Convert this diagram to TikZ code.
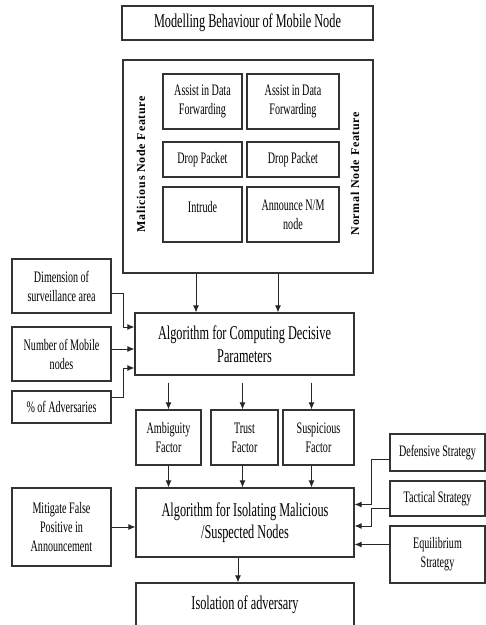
\documentclass[tikz,border=0pt]{standalone}
\usepackage{fontspec}
\setmainfont{Liberation Serif}[FakeStretch=0.63]
\newfontfamily\sidefont{Liberation Serif}[LetterSpace=6, UprightFont=*, BoldFont=* Bold]
\usetikzlibrary{arrows.meta}

\begin{document}
\begin{tikzpicture}[x=1pt,y=-1pt]
    \tikzstyle{box} = [rectangle, draw=black!80, line width=1.1pt, align=center, inner sep=2pt, font=\fontsize{16}{19}\selectfont]
    \tikzstyle{bigbox} = [box, font=\fontsize{19.5}{22.5}\selectfont]
    \tikzstyle{sidetext} = [rotate=90, font=\sidefont\bfseries\fontsize{12}{14}\selectfont]
    \tikzstyle{arr} = [-{Latex[length=7pt,width=6pt]}, draw=black!85, line width=1pt]
    \useasboundingbox (0,0) rectangle (486,625);

    \node[bigbox, minimum width=251pt, minimum height=34pt] (model) at (247.5,23) {Modelling Behaviour of Mobile Node};
    \node[box, minimum width=250pt, minimum height=213pt] (feat) at (248,166.5) {};
    \node[box, minimum width=79pt, minimum height=55pt] (assistm) at (202.5,101.5) {Assist in Data\\Forwarding};
    \node[box, minimum width=92pt, minimum height=55pt] (assistn) at (293,101.5) {Assist in Data\\Forwarding};
    \node[box, minimum width=79pt, minimum height=35pt] (dropm) at (202.5,159.5) {Drop Packet};
    \node[box, minimum width=92pt, minimum height=35pt] (dropn) at (293,159.5) {Drop Packet};
    \node[box, minimum width=79pt, minimum height=55pt, text depth=16pt] (intrude) at (202.5,214.5) {Intrude};
    \node[box, minimum width=92pt, minimum height=55pt] (announce) at (293,214.5) {Announce N/M\\node};
    \node[sidetext] (malicious) at (141,164) {Malicious Node Feature};
    \node[sidetext] (normal) at (355,173.5) {Normal Node Feature};

    \node[box, minimum width=99pt, minimum height=54pt] (dim) at (61.5,286) {Dimension of\\surveillance area};
    \node[box, minimum width=99pt, minimum height=54pt] (num) at (61.5,354) {Number of Mobile\\nodes};
    \node[box, minimum width=99pt, minimum height=32pt] (adv) at (61.5,407) {\% of Adversaries};
    \node[bigbox, minimum width=219pt, minimum height=62pt] (compute) at (244.5,344) {Algorithm for Computing Decisive\\Parameters};

    \node[box, minimum width=65pt, minimum height=55pt] (amb) at (168.5,437.5) {Ambiguity\\Factor};
    \node[box, minimum width=67pt, minimum height=55pt] (trust) at (244.5,437.5) {Trust\\Factor};
    \node[box, minimum width=71pt, minimum height=55pt] (susp) at (318.5,437.5) {Suspicious\\Factor};

    \node[bigbox, minimum width=218pt, minimum height=69pt] (isolate) at (245,522.5) {Algorithm for Isolating Malicious\\/Suspected Nodes};
    \node[box, minimum width=99pt, minimum height=78pt] (mitigate) at (61.5,527) {Mitigate False\\Positive in\\Announcement};
    \node[box, minimum width=95pt, minimum height=37pt] (defensive) at (437.5,452.5) {Defensive Strategy};
    \node[box, minimum width=95pt, minimum height=35pt] (tactical) at (437.5,498.5) {Tactical Strategy};
    \node[box, minimum width=95pt, minimum height=57pt] (equilibrium) at (437.5,554.5) {Equilibrium\\Strategy};
    \node[bigbox, minimum width=218pt, minimum height=44pt] (isolation) at (245,605) {Isolation of adversary};

    \draw[arr] ([xshift=-52pt]feat.south) -- ([xshift=-52pt]feat.south |- compute.north);
    \draw[arr] ([xshift=30pt]feat.south) -- ([xshift=30pt]feat.south |- compute.north);
    \draw[arr] ([yshift=-7pt]dim.east) -- ++(12,0) |- ([yshift=17pt]compute.west);
    \draw[arr] ([yshift=5pt]num.east) -- ([yshift=5pt]num.east -| compute.west);
    \draw[arr] ([yshift=10pt]adv.east) -- ++(12,0) |- ([yshift=-24pt]compute.west);

    \draw[arr] ([yshift=-7pt]compute.south -| amb) -- (amb.north);
    \draw[arr] ([yshift=-7pt,xshift=-2pt]compute.south -| trust) -- ([xshift=-2pt]trust.north);
    \draw[arr] ([yshift=-7pt,xshift=-7pt]compute.south -| susp) -- ([xshift=-7pt]susp.north);
    \draw[arr] (amb.south) -- (amb.south |- isolate.north);
    \draw[arr] ([xshift=-2pt]trust.south) -- ([xshift=-2pt]trust.south |- isolate.north);
    \draw[arr] ([xshift=-7pt]susp.south) -- ([xshift=-7pt]susp.south |- isolate.north);

    \draw[arr] ([yshift=-7pt]defensive.west) -- ++(-18,0) |- ([yshift=18pt]isolate.east);
    \draw[arr] ([yshift=-9.5pt]tactical.west) -- ++(-18,0) |- ([yshift=-3.5pt]isolate.east);
    \draw[arr] ([yshift=10pt]equilibrium.west) -- ([yshift=10pt]equilibrium.west -| isolate.east);
    \draw[arr] (mitigate.east) -- (mitigate.east -| isolate.west);
    \draw[arr] ([xshift=-7pt]isolate.south) -- ([xshift=-7pt]isolate.south |- isolation.north);
\end{tikzpicture}
\end{document}
